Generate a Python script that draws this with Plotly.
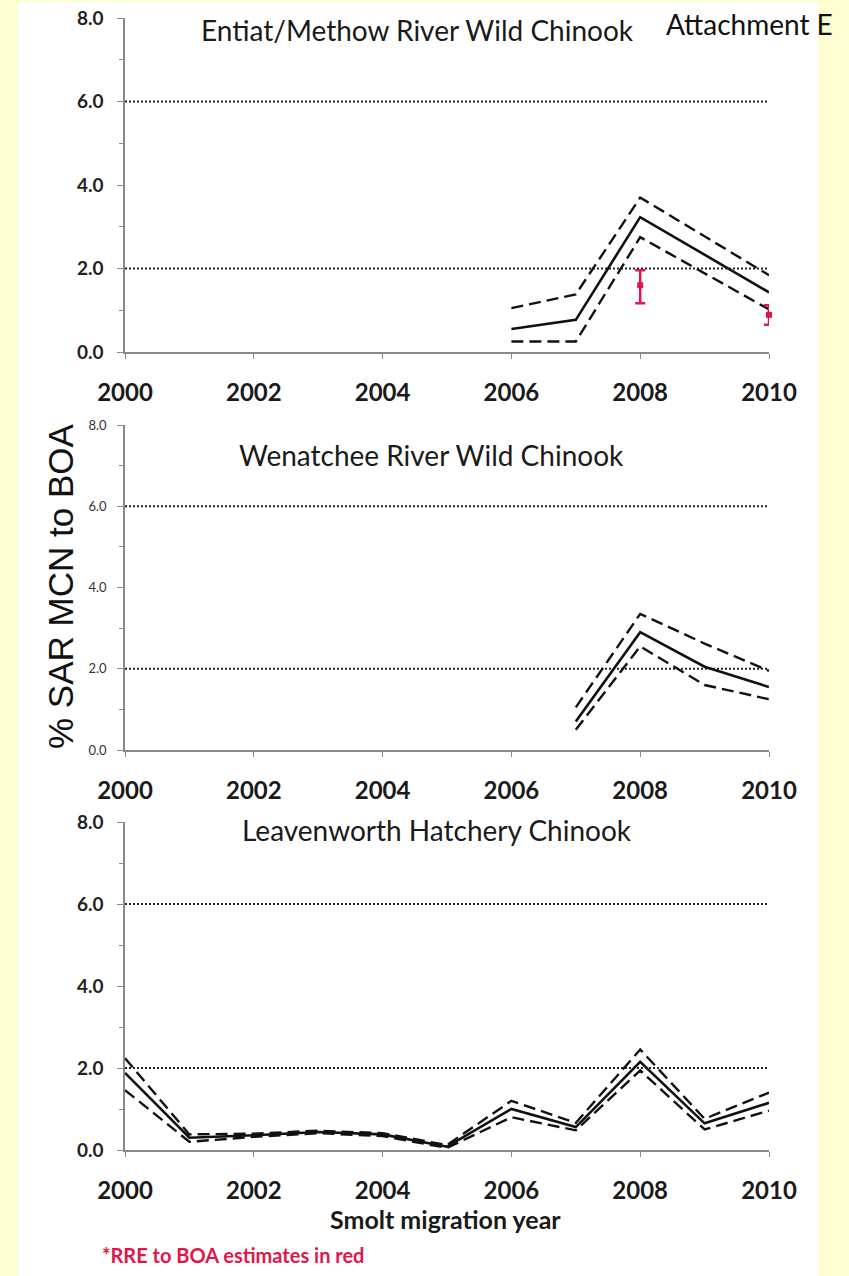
import plotly.graph_objects as go

# Entiat/Methow River wild Chinook
em_years = [2006, 2007, 2008, 2010]
em_sar = [0.55, 0.77, 3.23, 1.43]
em_hi = [1.05, 1.38, 3.70, 1.84]
em_lo = [0.25, 0.25, 2.75, 1.02]
em_rre_years = [2008, 2010]
em_rre = [1.60, 0.89]
em_rre_hi = [1.96, 1.12]
em_rre_lo = [1.17, 0.65]

# Wenatchee River wild Chinook
wen_years = [2007, 2008, 2009, 2010]
wen_sar = [0.70, 2.90, 2.05, 1.55]
wen_hi = [1.05, 3.35, 2.62, 1.95]
wen_lo = [0.50, 2.55, 1.60, 1.25]

# Leavenworth hatchery Chinook
lv_years = [2000, 2001, 2002, 2003, 2004, 2005, 2006, 2007, 2008, 2009, 2010]
lv_sar = [1.88, 0.30, 0.36, 0.44, 0.38, 0.08, 1.00, 0.56, 2.15, 0.65, 1.15]
lv_hi = [2.24, 0.38, 0.40, 0.47, 0.41, 0.12, 1.20, 0.66, 2.45, 0.76, 1.40]
lv_lo = [1.46, 0.20, 0.32, 0.41, 0.34, 0.05, 0.80, 0.48, 1.94, 0.50, 0.96]

target_levels = [2.0, 6.0]
panel_titles = ["Entiat/Methow River Wild Chinook",
                "Wenatchee River Wild Chinook",
                "Leavenworth Hatchery Chinook"]
year_ticks = [2000, 2002, 2004, 2006, 2008, 2010]
sar_ticks = [0, 2, 4, 6, 8]

W, H = 849, 1276
YELLOW = "#FEFED2"
RED = "#E0174A"
AXC = "#8a8a8a"
FONT = "Lato"

def px_x(x):
    return x / W

def px_y(y):
    return 1 - y / H

# (top px of 8.0, bottom px of 0.0)
panels = [(18, 352), (425, 750), (822, 1150)]
x_left, x_right = 125, 769

series = [
    (em_years, em_sar, em_hi, em_lo),
    (wen_years, wen_sar, wen_hi, wen_lo),
    (lv_years, lv_sar, lv_hi, lv_lo),
]

fig = go.Figure()

for i, (yrs, mid, hi, lo) in enumerate(series):
    xa = "x" if i == 0 else f"x{i+1}"
    ya = "y" if i == 0 else f"y{i+1}"
    for lvl in target_levels:
        fig.add_trace(go.Scatter(x=[2000, 2010], y=[lvl, lvl], mode="lines",
                                 line=dict(color="#222", width=2, dash="2px,2px"),
                                 xaxis=xa, yaxis=ya, showlegend=False, hoverinfo="skip"))
    for band in (hi, lo):
        fig.add_trace(go.Scatter(x=yrs, y=band, mode="lines",
                                 line=dict(color="#111", width=2.4, dash="12px,6px"),
                                 xaxis=xa, yaxis=ya, showlegend=False))
    fig.add_trace(go.Scatter(x=yrs, y=mid, mode="lines",
                             line=dict(color="#111", width=2.6),
                             xaxis=xa, yaxis=ya, showlegend=False))

# red RRE estimates (top panel only)
fig.add_trace(go.Scatter(
    x=em_rre_years, y=em_rre, mode="markers",
    marker=dict(color=RED, size=6, symbol="square"),
    error_y=dict(type="data", symmetric=False,
                 array=[h - v for h, v in zip(em_rre_hi, em_rre)],
                 arrayminus=[v - l for v, l in zip(em_rre, em_rre_lo)],
                 color=RED, thickness=2.5, width=5),
    cliponaxis=False, xaxis="x", yaxis="y", showlegend=False))

layout = dict(
    width=W, height=H,
    margin=dict(l=0, r=0, t=0, b=0, pad=0, autoexpand=False),
    paper_bgcolor=YELLOW,
    plot_bgcolor="rgba(0,0,0,0)",
    showlegend=False,
)

for i, (top, bot) in enumerate(panels):
    sfx = "" if i == 0 else str(i + 1)
    tickfont_y = dict(family=FONT, size=19, color="#222", weight="bold")
    if i == 1:
        tickfont_y = dict(family=FONT, size=13, color="#333")
    layout["xaxis" + sfx] = dict(
        domain=[px_x(x_left), px_x(x_right)], range=[2000, 2010],
        anchor="y" + sfx, tickvals=year_ticks, ticks="outside", ticklen=5,
        tickcolor=AXC, showline=True, linecolor=AXC, linewidth=1.5,
        showgrid=False, zeroline=False, ticklabelstandoff=13, automargin=False,
        tickfont=dict(family=FONT, size=24, color="#1a1a1a", weight="bold"))
    layout["yaxis" + sfx] = dict(
        domain=[px_y(bot), px_y(top)], range=[0, 8],
        anchor="x" + sfx, tickvals=sar_ticks, tickformat=".1f",
        ticks="outside", ticklen=6, tickcolor=AXC,
        minor=dict(ticks="outside", dtick=1, ticklen=4, tickcolor=AXC),
        showline=True, linecolor=AXC, linewidth=1.5, automargin=False,
        showgrid=False, zeroline=False, ticklabelstandoff=10 if i != 1 else 8,
        tickfont=tickfont_y)

fig.update_layout(**layout)

# white sheet behind the charts
fig.add_shape(type="rect", xref="paper", yref="paper",
              x0=px_x(18), x1=px_x(818), y0=0, y1=px_y(2),
              fillcolor="white", line=dict(width=0), layer="below")

title_pos = [(417, 30), (432, 455), (437, 830)]
for txt, (cx, cy) in zip(panel_titles, title_pos):
    fig.add_annotation(text=txt, x=px_x(cx), y=px_y(cy), xref="paper", yref="paper",
                       showarrow=False, xanchor="center", yanchor="middle",
                       font=dict(family=FONT, size=28, color="#1a1a1a"))

fig.add_annotation(text="Attachment E", x=px_x(749), y=px_y(24), xref="paper", yref="paper",
                   showarrow=False, xanchor="center", yanchor="middle",
                   font=dict(family=FONT, size=28, color="#111"))

fig.add_annotation(text="% SAR MCN to BOA", x=px_x(60), y=px_y(587), xref="paper", yref="paper",
                   showarrow=False, textangle=-90, xanchor="center", yanchor="middle",
                   font=dict(family="Liberation Sans", size=35, color="#111"))

fig.add_annotation(text="Smolt migration year", x=px_x(446), y=px_y(1219), xref="paper", yref="paper",
                   showarrow=False, xanchor="center", yanchor="middle",
                   font=dict(family=FONT, size=25, color="#1a1a1a", weight="bold"))

fig.add_annotation(text="*RRE to BOA estimates in red", x=px_x(100), y=px_y(1255), xref="paper", yref="paper",
                   showarrow=False, xanchor="left", yanchor="middle",
                   font=dict(family=FONT, size=20, color=RED, weight="bold"))

fig.write_html("out.html", config={"displayModeBar": False},
               post_script="document.body.style.margin='0px';")
